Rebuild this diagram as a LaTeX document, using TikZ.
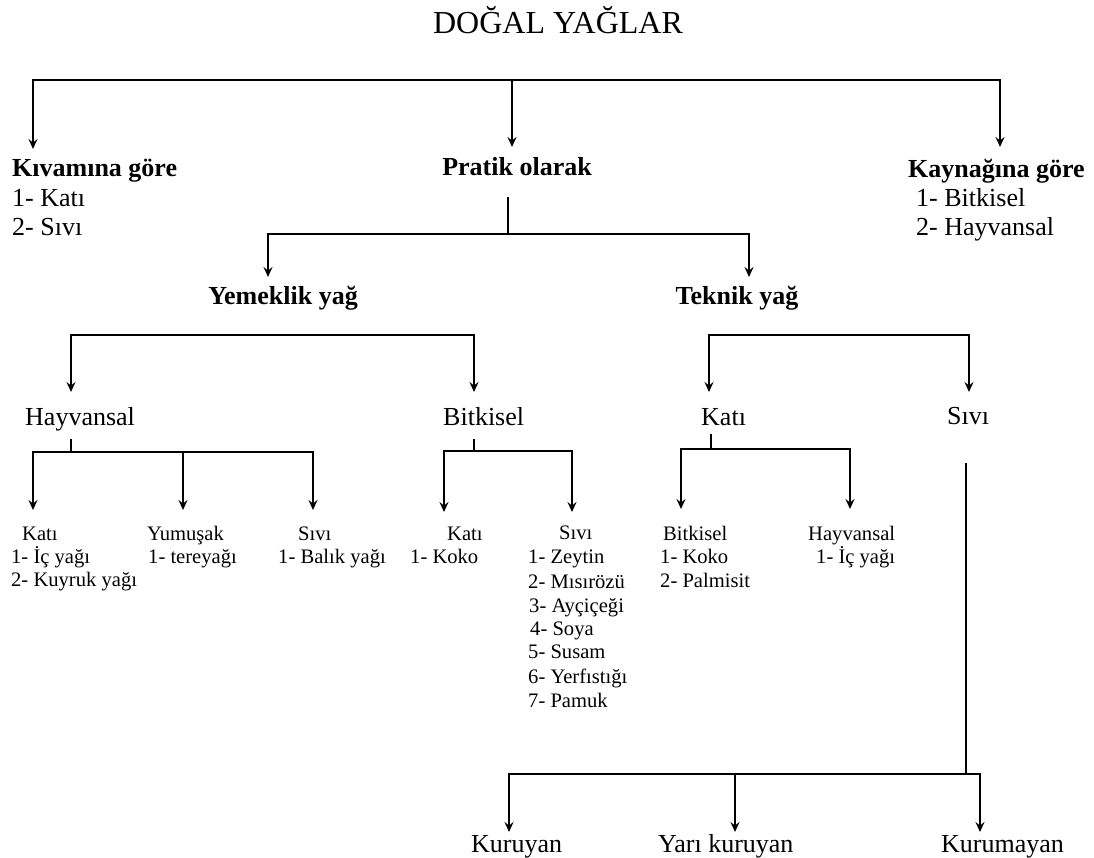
\documentclass[tikz,border=0pt]{standalone}
\usepackage{fontspec}
\setmainfont{Liberation Serif}
\usetikzlibrary{arrows.meta}
\tikzset{
  bline/.style={line width=2.5pt, line join=miter},
  sline/.style={line width=1.5pt},
  tipshape/.tip={Stealth[length=10pt,width=9pt,inset=3.5pt]},
  arr/.style={bline, -tipshape},
  arrs/.style={bline, tipshape-tipshape},
  titletext/.style={font=\fontsize{32}{36}\selectfont, inner sep=0pt},
  headtext/.style={font=\bfseries\fontsize{26}{30}\selectfont, inner sep=0pt},
  midtext/.style={font=\fontsize{26}{30}\selectfont, inner sep=0pt},
  smalltext/.style={font=\fontsize{20.6}{24}\selectfont, inner sep=0pt},
}
\begin{document}
\begin{tikzpicture}[x=1pt,y=-1pt]
\useasboundingbox (0,0) rectangle (1094,858);

% ---------- texts ----------
\node[titletext, anchor=base] (title) at (558,34) {DOĞAL YAĞLAR};

\node[headtext, anchor=base west] (kiv) at (12,177) {Kıvamına göre};
\node[midtext, anchor=base west] (kiv1) at (12,207) {1- Katı};
\node[midtext, anchor=base west] (kiv2) at (12,236) {2- Sıvı};

\node[headtext, anchor=base] (pra) at (517,176) {Pratik olarak};

\node[headtext, anchor=base west] (kay) at (908,178) {Kaynağına göre};
\node[midtext, anchor=base west] (kay1) at (916,207) {1- Bitkisel};
\node[midtext, anchor=base west] (kay2) at (916,236) {2- Hayvansal};

\node[headtext, anchor=base] (yem) at (283,305) {Yemeklik yağ};
\node[headtext, anchor=base] (tek) at (737,305) {Teknik yağ};

\node[midtext, anchor=base west] (hay) at (25,425) {Hayvansal};
\node[midtext, anchor=base west] (bit) at (443,425) {Bitkisel};
\node[midtext, anchor=base west] (tkat) at (701,425) {Katı};
\node[midtext, anchor=base west] (tsiv) at (947,424) {Sıvı};

% under Hayvansal
\node[smalltext, anchor=base west] (hk) at (22,540) {Katı};
\node[smalltext, anchor=base west] (hk1) at (11,563) {1- İç yağı};
\node[smalltext, anchor=base west] (hk2) at (11,586) {2- Kuyruk yağı};
\node[smalltext, anchor=base west] (hy) at (147,540) {Yumuşak};
\node[smalltext, anchor=base west] (hy1) at (148,563) {1- tereyağı};
\node[smalltext, anchor=base west] (hs) at (298,540) {Sıvı};
\node[smalltext, anchor=base west] (hs1) at (278,563) {1- Balık yağı};

% under Bitkisel
\node[smalltext, anchor=base west] (bk) at (447,540) {Katı};
\node[smalltext, anchor=base west] (bk1) at (410,563) {1- Koko};
\node[smalltext, anchor=base west] (bs) at (559,539) {Sıvı};
\node[smalltext, anchor=base west] (bs1) at (528,563) {1- Zeytin};
\node[smalltext, anchor=base west] (bs2) at (528,588) {2- Mısırözü};
\node[smalltext, anchor=base west] (bs3) at (529,612) {3- Ayçiçeği};
\node[smalltext, anchor=base west] (bs4) at (530,635) {4- Soya};
\node[smalltext, anchor=base west] (bs5) at (528,658) {5- Susam};
\node[smalltext, anchor=base west] (bs6) at (528,683) {6- Yerfıstığı};
\node[smalltext, anchor=base west] (bs7) at (528,707) {7- Pamuk};

% under Teknik Katı
\node[smalltext, anchor=base west] (kb) at (663,540) {Bitkisel};
\node[smalltext, anchor=base west] (kb1) at (660,563) {1- Koko};
\node[smalltext, anchor=base west] (kb2) at (660,587) {2- Palmisit};
\node[smalltext, anchor=base west] (kh) at (808,540) {Hayvansal};
\node[smalltext, anchor=base west] (kh1) at (816,563) {1- İç yağı};

% bottom
\node[midtext, anchor=base west] (kur) at (471,852) {Kuruyan};
\node[midtext, anchor=base west] (yar) at (658,852) {Yarı kuruyan};
\node[midtext, anchor=base west] (kum) at (941,852) {Kurumayan};

% ---------- coordinates ----------
\coordinate (t1) at (33,80);
\coordinate (t2) at (512,80);
\coordinate (t3) at (1000,80);
\coordinate (tkiv) at (33,149);
\coordinate (tpra) at (512,147);
\coordinate (tkay) at (1000,147);
\coordinate (p0) at (508,197);
\coordinate (pm) at (508,234);
\coordinate (p1) at (268,234);
\coordinate (p2) at (749,234);
\coordinate (tyem) at (268,277);
\coordinate (ttek) at (749,277);
\coordinate (y1) at (71,335);
\coordinate (y2) at (474,335);
\coordinate (thay) at (71,392);
\coordinate (tbit) at (474,392);
\coordinate (k1) at (709,335);
\coordinate (k2) at (969,335);
\coordinate (ttkat) at (709,392);
\coordinate (ttsiv) at (969,392);
\coordinate (h0) at (71,439);
\coordinate (hm) at (71,452);
\coordinate (h1) at (33,452);
\coordinate (h2) at (183,452);
\coordinate (h3) at (313,452);
\coordinate (thk) at (33,510);
\coordinate (thy) at (183,510);
\coordinate (ths) at (313,510);
\coordinate (b0) at (474,439);
\coordinate (bm) at (474,451);
\coordinate (b1) at (444,451);
\coordinate (b2) at (572,451);
\coordinate (tbk) at (444,512);
\coordinate (tbs) at (572,512);
\coordinate (c0) at (711,434);
\coordinate (cm) at (711,449);
\coordinate (c1) at (681,449);
\coordinate (c2) at (850,449);
\coordinate (tkb) at (681,509);
\coordinate (tkh) at (850,509);
\coordinate (s0) at (966,463);
\coordinate (sm) at (966,774);
\coordinate (s1) at (509,774);
\coordinate (s2) at (735,774);
\coordinate (s3) at (980,774);
\coordinate (tkur) at (509,832);
\coordinate (tyar) at (735,832);
\coordinate (tkum) at (980,832);

% ---------- connectors ----------
\draw[arrs] (tkiv) -- (t1) -- (t3) -- (tkay);
\draw[arr] (t2) -- (tpra);

\draw[sline] (p0) -- (pm);
\draw[arrs] (tyem) -- (p1) -- (p2) -- (ttek);

\draw[arrs] (thay) -- (y1) -- (y2) -- (tbit);
\draw[arrs] (ttkat) -- (k1) -- (k2) -- (ttsiv);

\draw[sline] (h0) -- (hm);
\draw[arrs] (thk) -- (h1) -- (h3) -- (ths);
\draw[arr] (h2) -- (thy);

\draw[sline] (b0) -- (bm);
\draw[arrs] (tbk) -- (b1) -- (b2) -- (tbs);

\draw[sline] (c0) -- (cm);
\draw[arrs] (tkb) -- (c1) -- (c2) -- (tkh);

\draw[sline] (s0) -- (sm);
\draw[arrs] (tkur) -- (s1) -- (s3) -- (tkum);
\draw[arr] (s2) -- (tyar);
\end{tikzpicture}
\end{document}
